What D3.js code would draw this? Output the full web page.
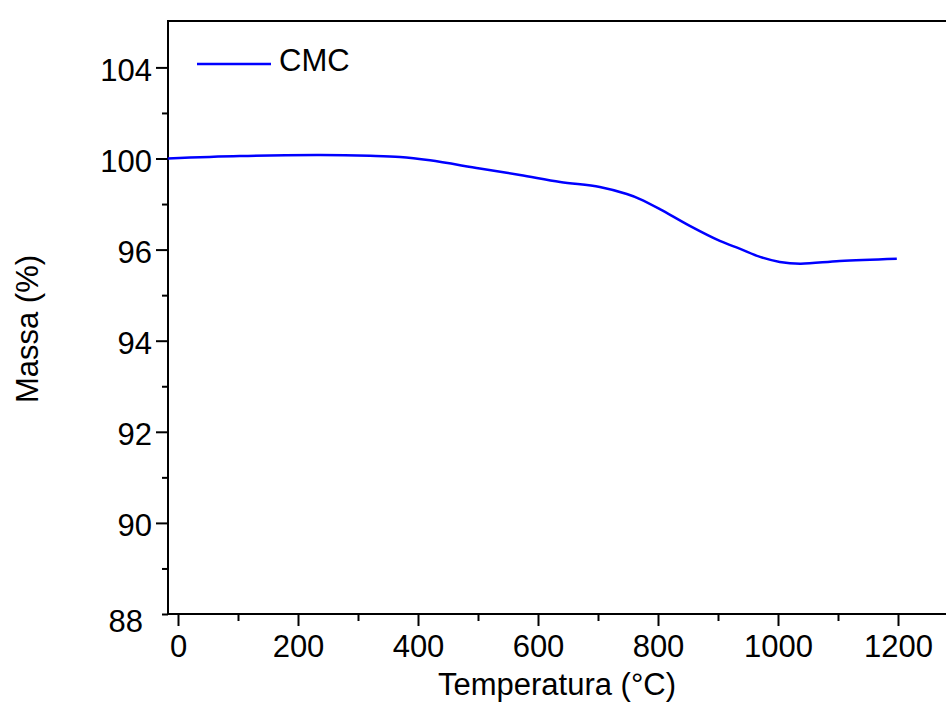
<!DOCTYPE html>
<html>
<head>
<meta charset="utf-8">
<script src="https://cdn.jsdelivr.net/npm/d3@7"></script>
<style>
  body { margin: 0; background: #fff; }
  svg { display: block; font-family: "Liberation Sans", Arial, sans-serif; }
</style>
</head>
<body>
<svg id="chart"></svg>
<script>
// TGA curve of CMC
var temperature = [-17, 103, 237, 320, 370, 420, 503, 570, 637, 703, 748, 770, 803, 853, 903, 937, 970, 1003, 1037, 1103, 1198]
var mass = [100.0, 100.11, 100.15, 100.12, 100.07, 99.92, 99.56, 99.28, 98.97, 98.75, 98.44, 98.22, 97.78, 97.04, 96.38, 96.03, 95.84, 95.73, 95.69, 95.75, 95.80]

// axis labels as printed on the original (note the uneven y labels)
var xTicks = [0, 200, 400, 600, 800, 1000, 1200]
var xMinor = [100, 300, 500, 700, 900, 1100]
var yTicks = [88, 90, 92, 94, 96, 100, 104]
var yMinor = [89, 91, 93, 95, 98, 102]

var dimensions = {
    width: 946,
    height: 707,
    margin: { top: 21, bottom: 93, left: 168 }
}

var svg = d3.select("#chart")
            .attr("width", dimensions.width)
            .attr("height", dimensions.height)

var plotBottom = dimensions.height - dimensions.margin.bottom
var yStep = 91.1

var xScale = d3.scaleLinear()
               .domain([0, 1200])
               .range([178, 898])

// piecewise scale so that the printed labels sit on evenly spaced ticks
var yScale = d3.scaleLinear()
               .domain(yTicks)
               .range(yTicks.map((d, i) => plotBottom - i * yStep))

// frame (right side runs off the picture)
svg.append("path")
   .attr("d", "M" + (dimensions.width + 20) + "," + dimensions.margin.top +
              "H" + dimensions.margin.left +
              "V" + plotBottom +
              "H" + (dimensions.width + 20))
   .attr("fill", "none")
   .attr("stroke", "black")
   .attr("stroke-width", 2)

var xAxis = d3.axisBottom(xScale).tickValues(xTicks).tickSize(12).tickPadding(9).tickFormat(d3.format("d"))
var xAxisMinor = d3.axisBottom(xScale).tickValues(xMinor).tickSize(7).tickFormat("")
var yAxis = d3.axisLeft(yScale).tickValues(yTicks).tickSize(12).tickPadding(4).tickFormat(d3.format("d"))
var yAxisMinor = d3.axisLeft(yScale).tickValues(yMinor).tickSize(6).tickFormat("")

function styleAxis(g) {
    g.select(".domain").remove()
    g.selectAll("line").attr("stroke", "black").attr("stroke-width", 2)
    g.selectAll("text").attr("fill", "black").style("font-size", "31px").style("font-family", "Liberation Sans, Arial, sans-serif")
}

svg.append("g").attr("transform", "translate(0," + plotBottom + ")").call(xAxis).call(styleAxis)
svg.append("g").attr("transform", "translate(0," + plotBottom + ")").call(xAxisMinor).call(styleAxis)
var yG = svg.append("g").attr("transform", "translate(" + dimensions.margin.left + ",0)").call(yAxis).call(styleAxis)
yG.selectAll("text").attr("dy", "0.42em")
// the bottom label is pushed down/left in the original, and its tick is short
yG.selectAll(".tick").filter(d => d === yTicks[0]).select("text").attr("dx", -9).attr("dy", "0.55em")
yG.selectAll(".tick").filter(d => d === yTicks[0]).select("line").attr("x2", -6)
svg.append("g").attr("transform", "translate(" + dimensions.margin.left + ",0)").call(yAxisMinor).call(styleAxis)

// axis titles
svg.append("text")
   .attr("x", 557)
   .attr("y", 695)
   .attr("text-anchor", "middle")
   .style("font-size", "31px")
   .text("Temperatura (°C)")

svg.append("text")
   .attr("transform", "rotate(-90)")
   .attr("x", -329)
   .attr("y", 38)
   .attr("text-anchor", "middle")
   .style("font-size", "31px")
   .text("Massa (%)")

// curve
var line = d3.line()
             .x(d => xScale(d[0]))
             .y(d => yScale(d[1]))
             .curve(d3.curveCatmullRom.alpha(0.5))

svg.append("path")
   .datum(temperature.map((t, i) => [t, mass[i]]))
   .attr("d", line)
   .attr("fill", "none")
   .attr("stroke", "#0000ff")
   .attr("stroke-width", 2.5)

// legend
svg.append("line").attr("x1", 197).attr("x2", 271).attr("y1", 64).attr("y2", 64)
   .attr("stroke", "#0000ff").attr("stroke-width", 2.5)
svg.append("text").attr("x", 279).attr("y", 71).style("font-size", "31px").text("CMC")
</script>
</body>
</html>
